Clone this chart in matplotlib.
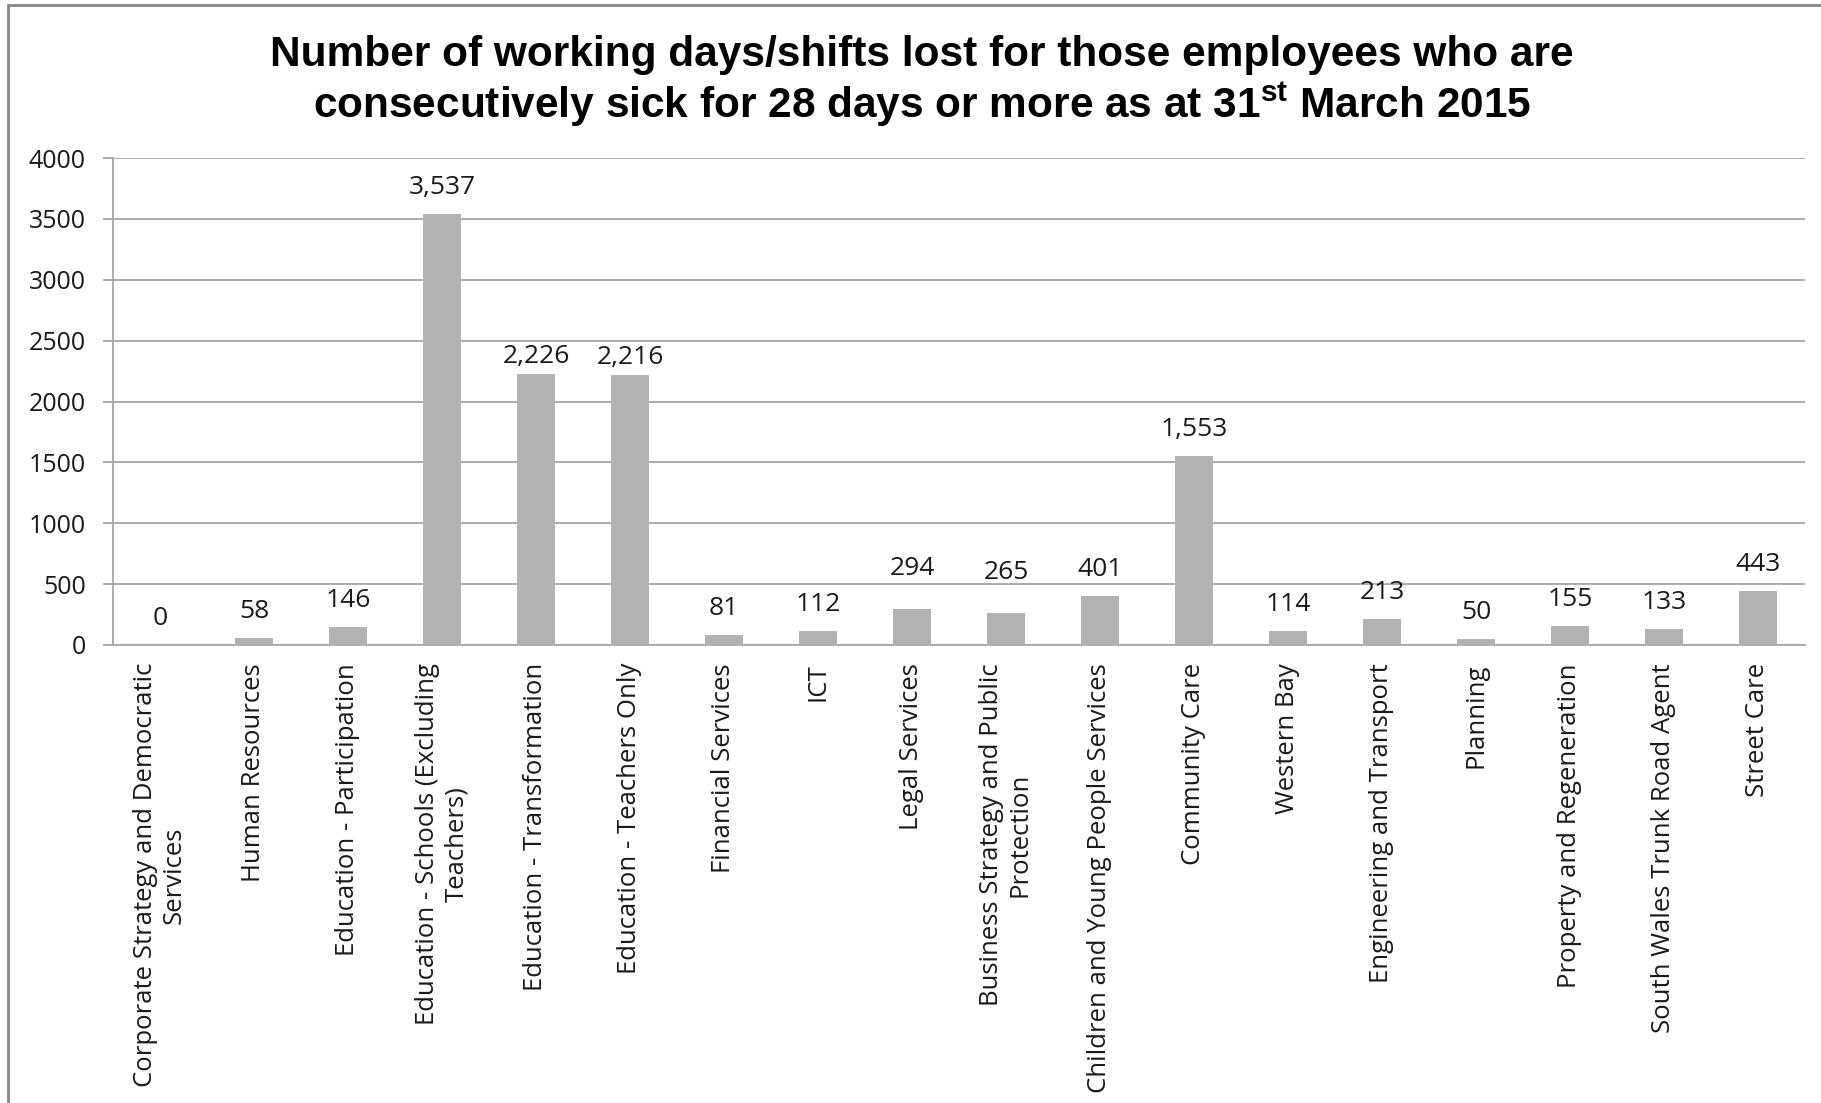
import matplotlib
matplotlib.use("Agg")
import matplotlib.pyplot as plt
from matplotlib.patches import Rectangle

categories = [
    "Corporate Strategy and Democratic\nServices",
    "Human Resources",
    "Education - Participation",
    "Education - Schools (Excluding\nTeachers)",
    "Education - Transformation",
    "Education - Teachers Only",
    "Financial Services",
    "ICT",
    "Legal Services",
    "Business Strategy and Public\nProtection",
    "Children and Young People Services",
    "Community Care",
    "Western Bay",
    "Engineering and Transport",
    "Planning",
    "Property and Regeneration",
    "South Wales Trunk Road Agent",
    "Street Care",
]
days_lost = [0, 58, 146, 3537, 2226, 2216, 81, 112, 294, 265, 401, 1553,
             114, 213, 50, 155, 133, 443]
yticks = [0, 500, 1000, 1500, 2000, 2500, 3000, 3500, 4000]

title_line1 = "Number of working days/shifts lost for those employees who are"
title_line2 = r"consecutively sick for 28 days or more as at 31$^{\mathrm{st}}$ March 2015"

plt.rcParams["font.family"] = ["Open Sans", "DejaVu Sans"]
plt.rcParams["mathtext.fontset"] = "custom"
plt.rcParams["mathtext.rm"] = "Liberation Sans:bold"
plt.rcParams["mathtext.bf"] = "Liberation Sans:bold"

W, H = 1821, 1103
fig = plt.figure(figsize=(W / 100, H / 100), dpi=100)
ax = fig.add_axes([113 / W, 1 - 645 / H, (1805 - 113) / W, (645 - 158) / H])

grid_col = "#A6A6A6"
text_col = "#1a1a1a"
x = list(range(len(categories)))
ax.bar(x, days_lost, width=0.40, color="#B2B2B2", zorder=3)

# a few data labels were dragged by hand in the original chart
label_nudge = {4: -6.5, 5: -6.5, 8: 10, 9: 10}
for xi, v in zip(x, days_lost):
    ax.annotate(f"{v:,}", (xi, v), xytext=(0, 14.4 + label_nudge.get(xi, 0)),
                textcoords="offset points", ha="center", va="baseline",
                fontsize=19, color=text_col)

ax.set_xlim(-0.5, len(categories) - 0.5)
ax.set_ylim(0, 4000)
ax.set_yticks(yticks)
ax.set_yticklabels([str(t) for t in yticks], fontsize=18, color=text_col)
ax.yaxis.grid(True, color=grid_col, linewidth=1.3, zorder=0)
ax.tick_params(axis="y", length=7.5, width=1.3, color=grid_col, pad=12)

ax.set_xticks(x)
ax.set_xticklabels(categories, rotation=90, fontsize=18.5, color=text_col,
                   ha="center", va="top", multialignment="center")
ax.tick_params(axis="x", length=0, pad=13)

for side in ["top", "right"]:
    ax.spines[side].set_visible(False)
for side in ["left", "bottom"]:
    ax.spines[side].set_color(grid_col)
    ax.spines[side].set_linewidth(1.3)

title_font = ["Liberation Sans", "DejaVu Sans"]
fig.text(922 / W, 1 - 55 / H, title_line1, ha="center", va="center",
         fontsize=30.5, fontweight="bold", family=title_font)
fig.text(922 / W, 1 - 104 / H, title_line2, ha="center", va="center",
         fontsize=30.5, fontweight="bold", family=title_font)

# chart border (only top and left visible in the crop)
fig.patches.append(Rectangle((8 / W, -0.5), 2.0, (1 - 5 / H) + 0.5,
                             transform=fig.transFigure, fill=False,
                             edgecolor="#878787", linewidth=2.0))

fig.savefig("out.png", dpi=100)
